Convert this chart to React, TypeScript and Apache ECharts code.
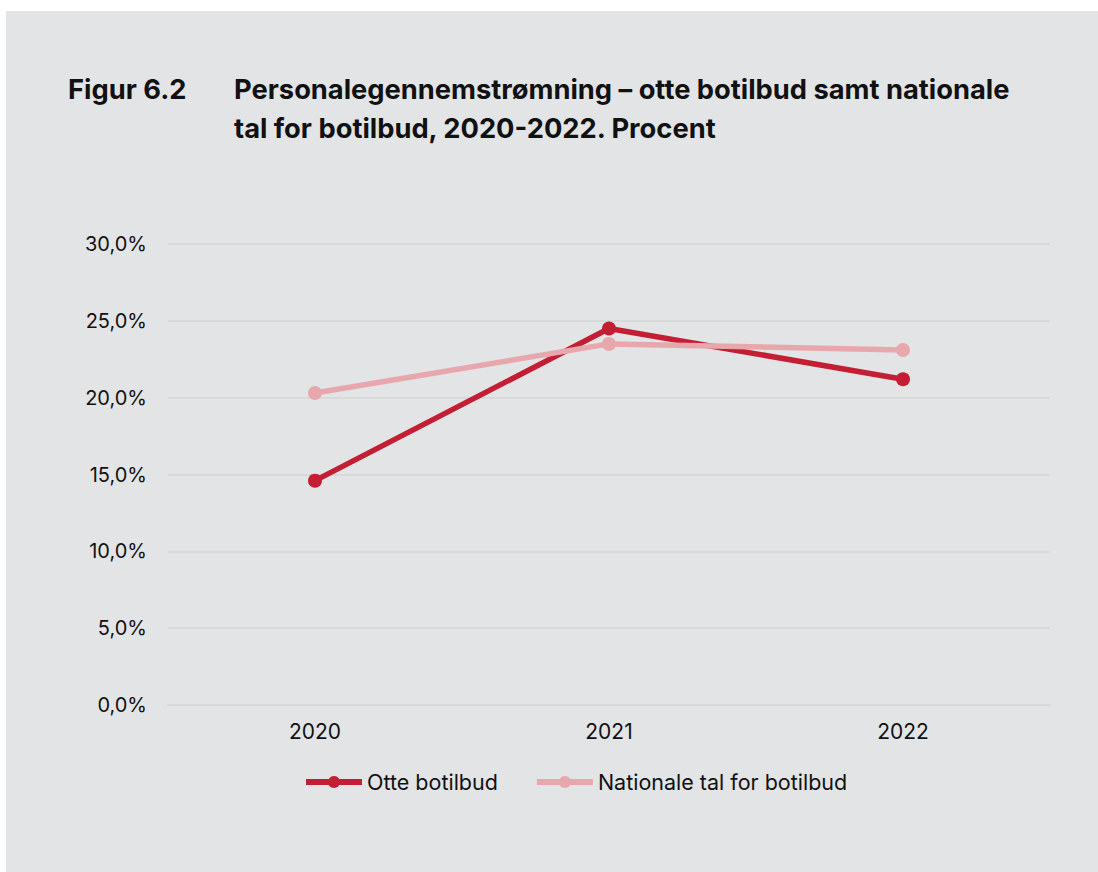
import React, { useEffect, useRef } from "react";
import * as echarts from "echarts";

const categories = ["2020", "2021", "2022"];
const otteBotilbud = [14.6, 24.5, 21.2];
const nationaleTal = [20.3, 23.5, 23.1];
const seriesNames = ["Otte botilbud", "Nationale tal for botilbud"];
const figureLabel = "Figur 6.2";
const titleLines = [
  "Personalegennemstrømning – otte botilbud samt nationale",
  "tal for botilbud, 2020-2022. Procent",
];

const FONT = "Inter, 'Noto Sans', sans-serif";
const TITLE_FONT = `bold 27.3px ${FONT}`;
const GRID_COLOR = "#d8d9db";

export default function App() {
  const ref = useRef<HTMLDivElement>(null);
  useEffect(() => {
    if (!ref.current) return;
    const chart = echarts.init(ref.current, null, { renderer: "svg" });
    chart.setOption({
      animation: false,
      backgroundColor: "#ffffff",
      textStyle: { fontFamily: FONT },
      graphic: [
        {
          type: "rect",
          z: -10,
          shape: { x: 6, y: 11, width: 1092, height: 861 },
          style: { fill: "#e3e4e6" },
          silent: true,
        },
        {
          type: "text",
          style: {
            x: 68,
            y: 89,
            text: figureLabel,
            font: TITLE_FONT,
            fill: "#111111",
            verticalAlign: "middle",
          },
        },
        {
          type: "text",
          style: {
            x: 234,
            y: 89,
            text: titleLines[0],
            font: TITLE_FONT,
            fill: "#111111",
            verticalAlign: "middle",
          },
        },
        {
          type: "text",
          style: {
            x: 234,
            y: 128,
            text: titleLines[1],
            font: TITLE_FONT,
            fill: "#111111",
            verticalAlign: "middle",
          },
        },
      ],
      grid: { left: 168, right: 48, top: 244, bottom: 167, containLabel: false },
      legend: {
        left: 298,
        top: 766,
        itemWidth: 56,
        itemHeight: 15,
        itemGap: 36,
        lineStyle: { width: 6 },
        textStyle: { fontSize: 21.5, color: "#111111", fontFamily: FONT },
        data: seriesNames,
      },
      xAxis: {
        type: "category",
        data: categories,
        boundaryGap: true,
        axisLine: { show: true, lineStyle: { color: GRID_COLOR, width: 2 } },
        axisTick: { show: false },
        axisLabel: { fontSize: 21, color: "#111111", margin: 16, fontFamily: FONT },
      },
      yAxis: {
        type: "value",
        min: 0,
        max: 30,
        interval: 5,
        axisLine: { show: false },
        axisTick: { show: false },
        splitLine: { lineStyle: { color: GRID_COLOR, width: 2 } },
        axisLabel: {
          fontSize: 20,
          color: "#111111",
          margin: 21,
          fontFamily: FONT,
          formatter: (v: number) => v.toFixed(1).replace(".", ",") + "%",
        },
      },
      series: [
        {
          name: seriesNames[0],
          type: "line",
          data: otteBotilbud,
          symbol: "circle",
          symbolSize: 14,
          z: 2,
          itemStyle: { color: "#c41e35" },
          lineStyle: { color: "#c41e35", width: 5.5 },
        },
        {
          name: seriesNames[1],
          type: "line",
          data: nationaleTal,
          symbol: "circle",
          symbolSize: 14,
          z: 3,
          itemStyle: { color: "#e8a7ac" },
          lineStyle: { color: "#e8a7ac", width: 5.5 },
        },
      ],
    });
    return () => chart.dispose();
  }, []);
  return (
    <div
      ref={ref}
      style={{ position: "absolute", left: 0, top: 0, width: 1098, height: 872 }}
    />
  );
}
